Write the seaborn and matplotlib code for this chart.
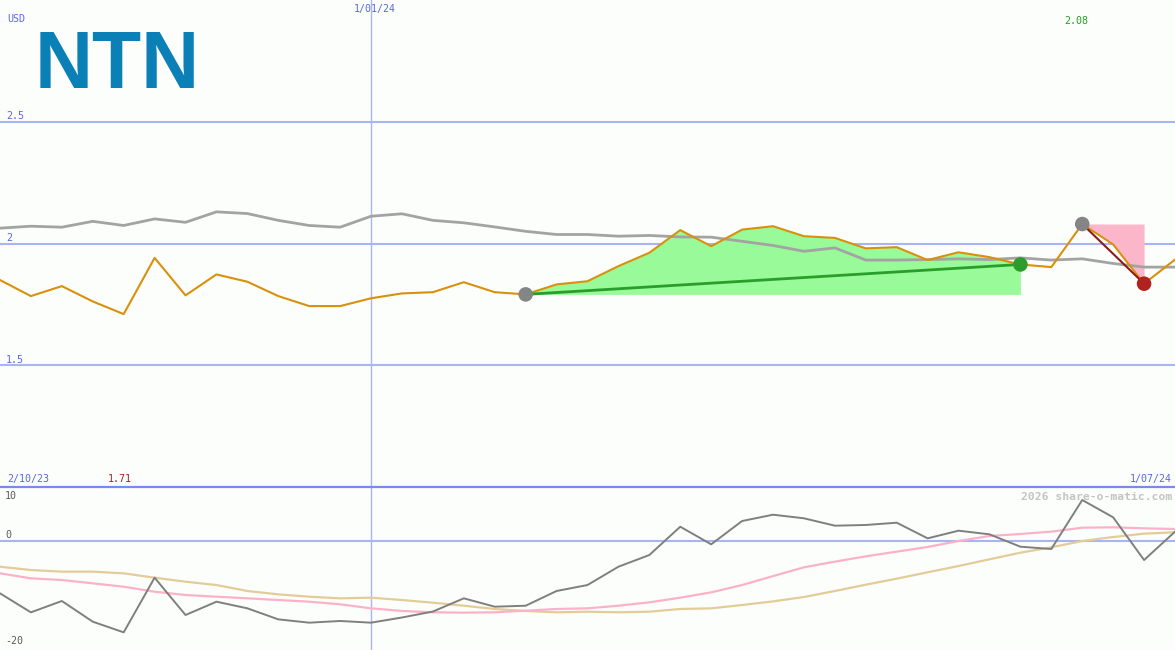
import numpy as np
import pandas as pd
import matplotlib
matplotlib.use('Agg')
import matplotlib.pyplot as plt
import seaborn as sns

# ---------------- data ----------------
dates = pd.date_range('2023-10-09', periods=39, freq='7D')
price = [1.850, 1.784, 1.825, 1.762, 1.710, 1.941, 1.787, 1.873, 1.843, 1.784,
         1.743, 1.743, 1.775, 1.795, 1.800, 1.841, 1.800, 1.791, 1.832, 1.845,
         1.907, 1.962, 2.055, 1.989, 2.057, 2.071, 2.030, 2.023, 1.980, 1.985,
         1.932, 1.964, 1.944, 1.914, 1.903, 2.080, 1.996, 1.835, 1.934]
avg = [2.063, 2.071, 2.067, 2.091, 2.074, 2.101, 2.087, 2.130, 2.123, 2.095,
       2.074, 2.067, 2.112, 2.122, 2.095, 2.085, 2.068, 2.050, 2.037, 2.037,
       2.030, 2.033, 2.027, 2.026, 2.009, 1.992, 1.968, 1.982, 1.932, 1.932,
       1.934, 1.937, 1.934, 1.941, 1.932, 1.937, 1.918, 1.903, 1.903]
mom = [-9.57, -13.07, -10.98, -14.79, -16.75, -6.69, -13.56, -11.11, -12.33, -14.36,
       -14.97, -14.66, -14.97, -14.02, -12.92, -10.49, -12.03, -11.85, -9.14, -8.04,
       -4.67, -2.52, 2.69, -0.55, 3.74, 4.90, 4.24, 2.88, 3.01, 3.43,
       0.55, 1.96, 1.29, -0.99, -1.41, 7.61, 4.42, -3.44, 1.78]
mom_fast = [-5.89, -6.81, -7.12, -7.73, -8.35, -9.27, -9.88, -10.19, -10.49, -10.80,
            -11.11, -11.59, -12.33, -12.82, -13.06, -13.13, -13.06, -12.77, -12.45, -12.33,
            -11.85, -11.23, -10.37, -9.39, -8.04, -6.40, -4.78, -3.74, -2.76, -1.90,
            -1.04, 0.06, 0.98, 1.35, 1.78, 2.51, 2.58, 2.39, 2.27]
mom_slow = [-4.67, -5.28, -5.58, -5.58, -5.89, -6.69, -7.43, -8.04, -9.14, -9.76,
            -10.19, -10.49, -10.37, -10.80, -11.29, -11.85, -12.45, -12.82, -13.06, -12.95,
            -13.06, -12.95, -12.45, -12.33, -11.72, -11.05, -10.25, -9.14, -7.98, -6.87,
            -5.70, -4.54, -3.31, -2.09, -1.10, 0.06, 0.80, 1.41, 1.66]
price_ticks = [2.5, 2.0, 1.5]
price_tick_labels = ['2.5', '2', '1.5']
mom_tick_labels = ['10', '0', '-20']
up_start, up_end = 17, 33
down_start, down_end = 35, 37
marker_date = pd.Timestamp('2024-01-01')
date_labels = ['1/01/24', '2/10/23', '1/07/24']
hi_label, lo_label = '2.08', '1.71'
currency = 'USD'
logo = 'NTN'
credit = '2026 share-o-matic.com'

# ---------------- style ----------------
sns.set_theme(style='white')
plt.rcParams['font.family'] = ['DejaVu Sans Mono', 'DejaVu Sans']
BG = '#fcfefc'
GRID = '#a8b4f4'
BORDER = '#7a8aea'
LBL = '#5865ee'
ORANGE = '#d9900c'

W, H = 1175, 650
fig = plt.figure(figsize=(W / 100, H / 100), dpi=100, facecolor=BG)
ax1 = fig.add_axes([0, 163 / H, 1, 487 / H], facecolor=BG)
ax2 = fig.add_axes([0, 0, 1, 163 / H], facecolor=BG)

for ax in (ax1, ax2):
    ax.set_xlim(dates[0], dates[-1])
    for s in ax.spines.values():
        s.set_visible(False)
    ax.axvline(marker_date, color=GRID, lw=1.0, zorder=1)

ax1.set_ylim(1.0, 3.0)
ax2.set_ylim(-20, 10)

for t in price_ticks:
    ax1.axhline(t, color=GRID, lw=1.5, zorder=1)
ax2.axhline(0, color=GRID, lw=1.5, zorder=1)
ax2.axhline(10, color=BORDER, lw=1.6, zorder=1, clip_on=False)

# fills
ax1.fill_between(dates[up_start:up_end + 1], price[up_start:up_end + 1], price[up_start],
                 color='#98fa98', lw=0, zorder=2)
ax1.fill_between(dates[down_start:down_end + 1], price[down_start:down_end + 1], price[down_start],
                 color='#fbb6c9', lw=0, zorder=2)

# upper lines
sns.lineplot(x=dates, y=avg, ax=ax1, color='#a3a3a3', lw=2.0, zorder=3)
sns.lineplot(x=dates, y=price, ax=ax1, color=ORANGE, lw=1.5, zorder=4)
sns.lineplot(x=[dates[up_start], dates[up_end]], y=[price[up_start], price[up_end]],
             ax=ax1, color='#2a9d2a', lw=2.0, zorder=5)
sns.lineplot(x=[dates[down_start], dates[down_end]], y=[price[down_start], price[down_end]],
             ax=ax1, color='#8b1a1a', lw=1.5, zorder=5)
sns.scatterplot(x=[dates[up_start], dates[down_start]], y=[price[up_start], price[down_start]],
                ax=ax1, color='#858585', s=110, edgecolor='none', zorder=6)
sns.scatterplot(x=[dates[up_end]], y=[price[up_end]], ax=ax1, color='#2a9d2a', s=110,
                edgecolor='none', zorder=6)
sns.scatterplot(x=[dates[down_end]], y=[price[down_end]], ax=ax1, color='#b02222', s=110,
                edgecolor='none', zorder=6)

# lower lines
sns.lineplot(x=dates, y=mom_slow, ax=ax2, color='#e3cc98', lw=1.6, zorder=3)
sns.lineplot(x=dates, y=mom_fast, ax=ax2, color='#fbb2c8', lw=1.6, zorder=3)
sns.lineplot(x=dates, y=mom, ax=ax2, color='#7f7f7f', lw=1.4, zorder=4)

for ax in (ax1, ax2):
    leg = ax.get_legend()
    if leg:
        leg.remove()
    ax.set_xticks([])
    ax.set_yticks([])
    ax.set_xlabel('')
    ax.set_ylabel('')


def px(x, y, s, **kw):
    fig.text(x / W, 1 - y / H, s, **kw)


FS = 7.2
px(7, 19, currency, color=LBL, fontsize=FS, ha='left', va='center')
px(375, 9, date_labels[0], color=LBL, fontsize=FS, ha='center', va='center')
px(1076, 21, hi_label, color='#22a022', fontsize=FS, ha='center', va='center')
for lab, yy in zip(price_tick_labels, [116, 238, 360]):
    px(6, yy, lab, color=LBL, fontsize=FS, ha='left', va='center')
px(7, 479, date_labels[1], color=LBL, fontsize=FS, ha='left', va='center')
px(120, 479, lo_label, color='#a82020', fontsize=FS, ha='center', va='center')
px(1172, 479, date_labels[2], color=LBL, fontsize=FS, ha='right', va='center')
for lab, yy in zip(mom_tick_labels, [496, 535, 641]):
    px(5, yy, lab, color='#5a5a5a', fontsize=FS, ha='left', va='center')
px(1172, 497, credit, color='#c4c4c4', fontsize=8.2, fontweight='bold',
   ha='right', va='center')

# logo
px(35, 67, logo, color='#0a80b6', fontsize=58, fontweight='bold',
   family=['Liberation Sans', 'DejaVu Sans'], ha='left', va='center')

fig.savefig('out.png', dpi=100, facecolor=BG)
